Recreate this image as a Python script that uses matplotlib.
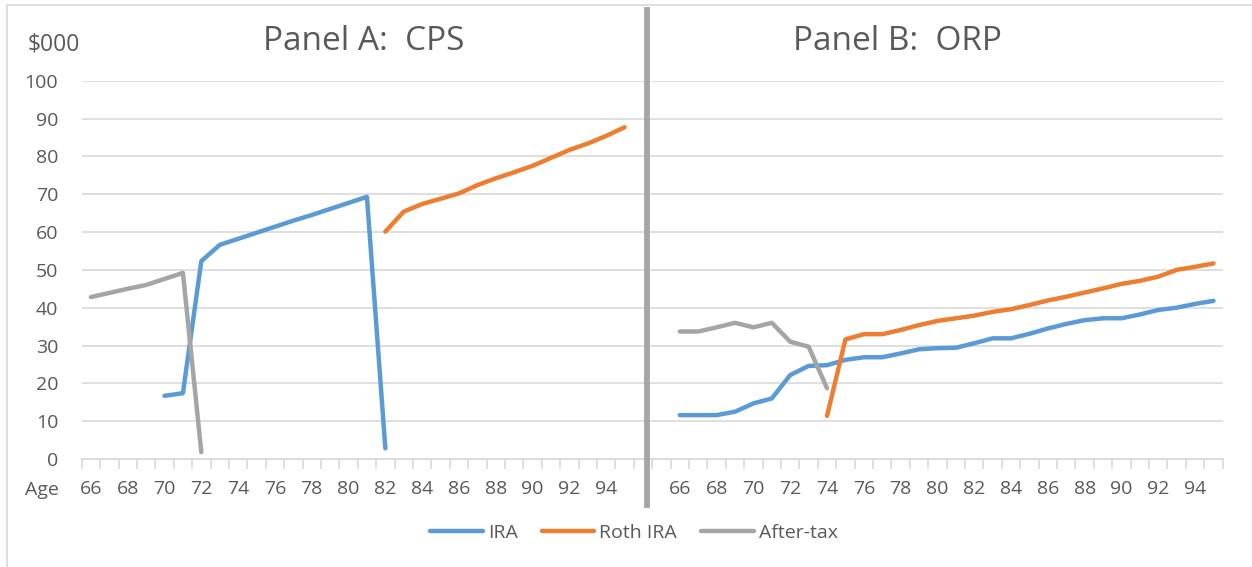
import numpy as np
import matplotlib
matplotlib.use("Agg")
import matplotlib.pyplot as plt
from matplotlib.lines import Line2D

plt.rcParams['font.family'] = ['Open Sans', 'DejaVu Sans']

# ---- data ----
ages = list(range(66, 96))
nan = np.nan

# Panel A: CPS
a_ira = [nan, nan, nan, nan, 16.7, 17.4, 52.3, 56.6, 58.2, 59.8, 61.4, 63.0, 64.5, 66.1, 67.7, 69.3,
         2.8, nan, nan, nan, nan, nan, nan, nan, nan, nan, nan, nan, nan, nan]
a_roth = [nan] * 16 + [60.1, 65.4, 67.4, 68.8, 70.2, 72.4, 74.2, 75.8, 77.5, 79.6, 81.7, 83.4, 85.4, 87.7]
a_after = [42.8, 43.9, 45.0, 46.0, 47.6, 49.2, 1.8] + [nan] * 23

# Panel B: ORP
b_ira = [11.6, 11.6, 11.6, 12.5, 14.7, 16.0, 22.2, 24.6, 24.8, 26.2, 26.9, 26.9, 27.9, 29.0, 29.3,
         29.4, 30.6, 31.9, 31.9, 33.1, 34.5, 35.7, 36.7, 37.2, 37.2, 38.2, 39.4, 40.0, 41.0, 41.8]
b_roth = [nan] * 8 + [11.4, 31.6, 33.0, 33.0, 34.1, 35.4, 36.5, 37.2, 37.9, 38.9, 39.6, 40.7, 41.9,
                      42.9, 44.0, 45.1, 46.3, 47.1, 48.2, 50.0, 50.8, 51.7]
b_after = [33.7, 33.7, 34.8, 36.0, 34.8, 36.0, 31.0, 29.7, 18.7] + [nan] * 21

titles = ["Panel A:  CPS", "Panel B:  ORP"]
series_names = ["IRA", "Roth IRA", "After-tax"]
colors = ["#5B9BD5", "#ED7D31", "#A5A5A5"]
yticks = list(range(0, 101, 10))

# ---- layout ----
W, H = 1252, 567
fig = plt.figure(figsize=(W / 100, H / 100), dpi=100)
ax_l, ax_r, ax_t, ax_b = 81.7, 1222.7, 80.7, 459
ax = fig.add_axes([ax_l / W, 1 - ax_b / H, (ax_r - ax_l) / W, (ax_b - ax_t) / H])

n = len(ages)
gap = 2
xa = np.arange(n)
xb = np.arange(n) + n + gap
total = 2 * n + gap

txt = "#595959"
grid = "#D9D9D9"
lw = 3.2
fs = 14

for vals, c in zip([a_ira, a_roth, a_after], colors):
    ax.plot(xa, vals, color=c, lw=lw, solid_capstyle='round', solid_joinstyle='round')
for vals, c in zip([b_ira, b_roth, b_after], colors):
    ax.plot(xb, vals, color=c, lw=lw, solid_capstyle='round', solid_joinstyle='round')

ax.set_xlim(-0.5, total - 0.5)
ax.set_ylim(0, 100)
ax.set_yticks(yticks)
ax.set_yticklabels([str(v) for v in yticks], fontsize=fs, color=txt)
ax.tick_params(axis='y', length=0, pad=17)
ax.yaxis.grid(True, color=grid, lw=1.2)
ax.set_axisbelow(True)

# x labels every other category
pos = list(xa[::2]) + list(xb[::2])
labs = [str(a) for a in ages[::2]] * 2
ax.set_xticks(pos)
ax.set_xticklabels(labs, fontsize=fs, color=txt)
ax.tick_params(axis='x', length=0, pad=15)
ax.set_xticks(np.arange(-0.5, total, 1.0), minor=True)
ax.tick_params(axis='x', which='minor', length=7, width=1.2, color=grid, direction='out')

for s in ['top', 'right', 'left']:
    ax.spines[s].set_visible(False)
ax.spines['bottom'].set_color(grid)
ax.spines['bottom'].set_linewidth(1.2)

# texts
fig.text(54 / W, 1 - 44 / H, "$000", fontsize=16.5, color=txt, ha='center', va='center')
fig.text(42 / W, 1 - 490 / H, "Age", fontsize=fs, color=txt, ha='center', va='center')
fig.text(364 / W, 1 - 42 / H, titles[0], fontsize=24, color=txt, ha='center', va='center')
fig.text(897 / W, 1 - 42 / H, titles[1], fontsize=24, color=txt, ha='center', va='center')

# divider and border
fig.add_artist(Line2D([647 / W, 647 / W], [1 - 10 / H, 1 - 505 / H], color="#A5A5A5", lw=4.2,
                      transform=fig.transFigure))
fig.add_artist(Line2D([7 / W, 7 / W], [0, 1 - 5 / H], color=grid, lw=1.2, transform=fig.transFigure))
fig.add_artist(Line2D([7 / W, 1], [1 - 5 / H, 1 - 5 / H], color=grid, lw=1.2, transform=fig.transFigure))

handles = [Line2D([], [], color=c, lw=lw, solid_capstyle='round') for c in colors]
fig.legend(handles, series_names, loc='center', bbox_to_anchor=(634 / W, 1 - 533 / H), ncol=3,
           frameon=False, fontsize=fs, labelcolor=txt, handlelength=2.7, handletextpad=0.25,
           columnspacing=1.25)

fig.savefig("out.png", dpi=100)
